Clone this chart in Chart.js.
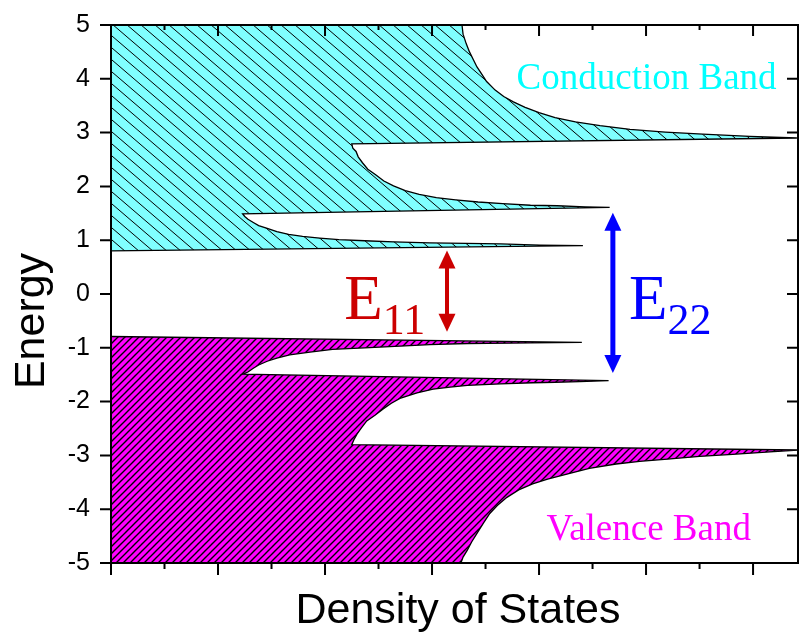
<!DOCTYPE html>
<html>
<head>
<meta charset="utf-8">
<script src="https://cdn.jsdelivr.net/npm/chart.js@4.4.1/dist/chart.umd.min.js"></script>
<style>
  html, body { margin: 0; padding: 0; background: #fff; }
  #wrap { width: 800px; height: 634px; position: relative; }
</style>
</head>
<body>
<div id="wrap"><canvas id="dos"></canvas></div>
<script>
// Energy (vertical) and density of states (horizontal)
var condEnergy = [0.80, 0.90, 0.91, 0.93, 0.94, 0.95, 0.97, 0.99, 1.01, 1.04, 1.07, 1.11, 1.16, 1.22, 1.27, 1.33, 1.39, 1.44, 1.49,
                  1.61, 1.62, 1.64, 1.65, 1.68, 1.71, 1.75, 1.79, 1.85, 1.92, 2.01, 2.10, 2.22, 2.32, 2.44, 2.55, 2.65, 2.71, 2.79,
                  2.90, 2.93, 2.97, 3.01, 3.06, 3.13, 3.20, 3.28, 3.37, 3.47, 3.57, 3.67, 3.79, 3.95, 4.10, 4.22, 4.34, 4.50, 4.65, 4.83, 5.00];
var condDos    = [0, 4.41, 4.01, 3.64, 3.32, 2.98, 2.64, 2.37, 2.13, 1.95, 1.79, 1.66, 1.55, 1.46, 1.38, 1.33, 1.28, 1.25, 1.23,
                  4.66, 4.43, 4.17, 3.92, 3.66, 3.43, 3.22, 3.04, 2.88, 2.75, 2.64, 2.55, 2.47, 2.40, 2.35, 2.31, 2.29, 2.26, 2.25,
                  6.41, 5.97, 5.53, 5.18, 4.85, 4.57, 4.34, 4.15, 4.00, 3.87, 3.76, 3.67, 3.59, 3.51, 3.46, 3.42, 3.39, 3.35, 3.32, 3.29, 3.28];

var valEnergy  = [-0.79, -0.90, -0.91, -0.92, -0.94, -0.97, -1.00, -1.03, -1.08, -1.13, -1.19, -1.25, -1.32, -1.38, -1.45, -1.49,
                  -1.61, -1.63, -1.64, -1.65, -1.67, -1.70, -1.73, -1.77, -1.84, -1.94, -2.03, -2.14, -2.25, -2.36, -2.49, -2.60, -2.71, -2.80,
                  -2.90, -2.94, -2.98, -3.02, -3.07, -3.11, -3.16, -3.24, -3.35, -3.44, -3.53, -3.64, -3.78, -3.93, -4.08, -4.26, -4.45, -4.61, -4.76, -4.89, -5.00];
var valDos     = [0, 4.40, 3.92, 3.33, 2.98, 2.70, 2.37, 2.07, 1.86, 1.67, 1.55, 1.46, 1.38, 1.33, 1.28, 1.23,
                  4.65, 4.38, 4.15, 3.94, 3.64, 3.33, 3.17, 3.01, 2.86, 2.70, 2.62, 2.54, 2.47, 2.39, 2.34, 2.30, 2.27, 2.25,
                  6.42, 6.12, 5.81, 5.50, 5.20, 4.94, 4.72, 4.47, 4.26, 4.08, 3.94, 3.81, 3.70, 3.61, 3.54, 3.48, 3.42, 3.37, 3.33, 3.29, 3.27];

var bandNames = ['Conduction Band', 'Valence Band'];
// optical transitions: subscript, x (DOS units), top / bottom energy
var transNames  = ['11', '22'];
var transX      = [3.14, 4.69];
var transTop    = [0.81, 1.51];
var transBottom = [-0.70, -1.47];

function pts(xs, ys) {
    return ys.map(function (y, i) { return { x: xs[i], y: y }; });
}

// little tile with a single diagonal, repeated as a fill pattern
function hatch(bg, w, h, down, lw) {
    var c = document.createElement('canvas');
    c.width = w; c.height = h;
    var g = c.getContext('2d');
    g.fillStyle = bg;
    g.fillRect(0, 0, w, h);
    g.strokeStyle = '#000';
    g.lineWidth = lw;
    g.beginPath();
    for (var k = -1; k <= 1; k++) {
        if (down) {
            g.moveTo(k * w - w, -h); g.lineTo(k * w + 2 * w, 2 * h);
        } else {
            g.moveTo(k * w - w, 2 * h); g.lineTo(k * w + 2 * w, -h);
        }
    }
    g.stroke();
    return g.createPattern(c, 'repeat');
}

function arrow(ctx, x, yTop, yBot, color, shaft) {
    var hw = 8.5, hl = 18;
    ctx.fillStyle = color;
    ctx.fillRect(x - shaft / 2, yTop + hl - 1, shaft, yBot - yTop - 2 * hl + 2);
    ctx.beginPath();
    ctx.moveTo(x, yTop); ctx.lineTo(x - hw, yTop + hl); ctx.lineTo(x + hw, yTop + hl);
    ctx.closePath(); ctx.fill();
    ctx.beginPath();
    ctx.moveTo(x, yBot); ctx.lineTo(x - hw, yBot - hl); ctx.lineTo(x + hw, yBot - hl);
    ctx.closePath(); ctx.fill();
}

var decor = {
    id: 'decor',
    afterDraw: function (chart) {
        var ctx = chart.ctx, a = chart.chartArea;
        var xs = chart.scales.x, ys = chart.scales.y;
        ctx.save();

        // frame
        ctx.strokeStyle = '#000';
        ctx.lineWidth = 2;
        ctx.strokeRect(a.left, a.top, a.right - a.left, a.bottom - a.top);

        // ticks: outward on left/bottom, inward on top/right
        ctx.beginPath();
        xs.ticks.forEach(function (t) {
            if (Math.abs(t.value * 2 - Math.round(t.value * 2)) > 1e-6) return;
            var p = xs.getPixelForValue(t.value);
            var len = Number.isInteger(t.value) ? 12 : 6;
            ctx.moveTo(p, a.bottom); ctx.lineTo(p, a.bottom + len);
            ctx.moveTo(p, a.top); ctx.lineTo(p, a.top + len - 1);
        });
        ys.ticks.forEach(function (t) {
            var p = ys.getPixelForValue(t.value);
            var len = Number.isInteger(t.value) ? 11 : 6;
            ctx.moveTo(a.left, p); ctx.lineTo(a.left - len, p);
            ctx.moveTo(a.right, p); ctx.lineTo(a.right - len, p);
        });
        ctx.stroke();

        // axis titles
        ctx.fillStyle = '#000';
        ctx.font = '43px "Liberation Sans", Arial, sans-serif';
        ctx.textAlign = 'center';
        ctx.textBaseline = 'alphabetic';
        ctx.fillText('Density of States', 458, 623);
        ctx.save();
        ctx.translate(44, 321);
        ctx.rotate(-Math.PI / 2);
        ctx.fillText('Energy', 0, 0);
        ctx.restore();

        // band names
        ctx.textAlign = 'left';
        ctx.font = '37px "Liberation Serif", "Times New Roman", serif';
        ctx.fillStyle = '#00ffff';
        ctx.fillText(bandNames[0], xs.getPixelForValue(3.79), ys.getPixelForValue(3.81));
        ctx.fillStyle = '#ff00ff';
        ctx.fillText(bandNames[1], xs.getPixelForValue(4.07), ys.getPixelForValue(-4.57));

        // transition arrows and labels
        var colors = ['#cc0000', '#0000ff'];
        var labelX = [2.18, 4.84];
        var shafts = [4, 5];
        for (var i = 0; i < transNames.length; i++) {
            var px = xs.getPixelForValue(transX[i]);
            arrow(ctx, px, ys.getPixelForValue(transTop[i]), ys.getPixelForValue(transBottom[i]), colors[i], shafts[i]);
            var lx = xs.getPixelForValue(labelX[i]);
            var base = ys.getPixelForValue(-0.46);
            ctx.fillStyle = colors[i];
            ctx.font = '63px "Liberation Serif", "Times New Roman", serif';
            ctx.fillText('E', lx, base);
            var w = ctx.measureText('E').width;
            ctx.font = '44px "Liberation Serif", "Times New Roman", serif';
            ctx.fillText(transNames[i], lx + w, base + 15);
        }
        ctx.restore();
    }
};

var cyanHatch = hatch('#80ffff', 14, 12, true, 1);
var magentaHatch = hatch('#ff00ff', 7, 7, false, 1.4);

new Chart(document.getElementById('dos'), {
    type: 'line',
    data: {
        datasets: [
            {
                label: 'Conduction Band',
                data: pts(condDos, condEnergy),
                borderColor: '#000',
                borderWidth: 1.3,
                backgroundColor: cyanHatch,
                fill: 'origin',
                pointRadius: 0,
                tension: 0
            },
            {
                label: 'Valence Band',
                data: pts(valDos, valEnergy),
                borderColor: '#000',
                borderWidth: 1.3,
                backgroundColor: magentaHatch,
                fill: 'origin',
                pointRadius: 0,
                tension: 0
            }
        ]
    },
    options: {
        indexAxis: 'y',
        responsive: true,
        maintainAspectRatio: false,
        animation: false,
        layout: { padding: { top: 21, right: 2, left: 0, bottom: 0 } },
        plugins: {
            legend: { display: false },
            tooltip: { enabled: false }
        },
        scales: {
            x: {
                type: 'linear',
                min: 0,
                max: 6.42,
                ticks: { stepSize: 0.5, display: false },
                grid: { display: false },
                border: { display: false },
                afterFit: function (s) { s.height = 71; }
            },
            y: {
                type: 'linear',
                min: -5,
                max: 5,
                ticks: {
                    stepSize: 0.5,
                    padding: 10,
                    color: '#000',
                    font: { family: '"Liberation Sans", Arial, sans-serif', size: 25 },
                    callback: function (v) { return Number.isInteger(v) ? String(v) : ''; }
                },
                grid: { display: true, drawOnChartArea: false, color: 'rgba(0,0,0,0)', tickLength: 11 },
                border: { display: false },
                afterFit: function (s) { s.width = 111; }
            }
        }
    },
    plugins: [decor]
});
</script>
</body>
</html>
